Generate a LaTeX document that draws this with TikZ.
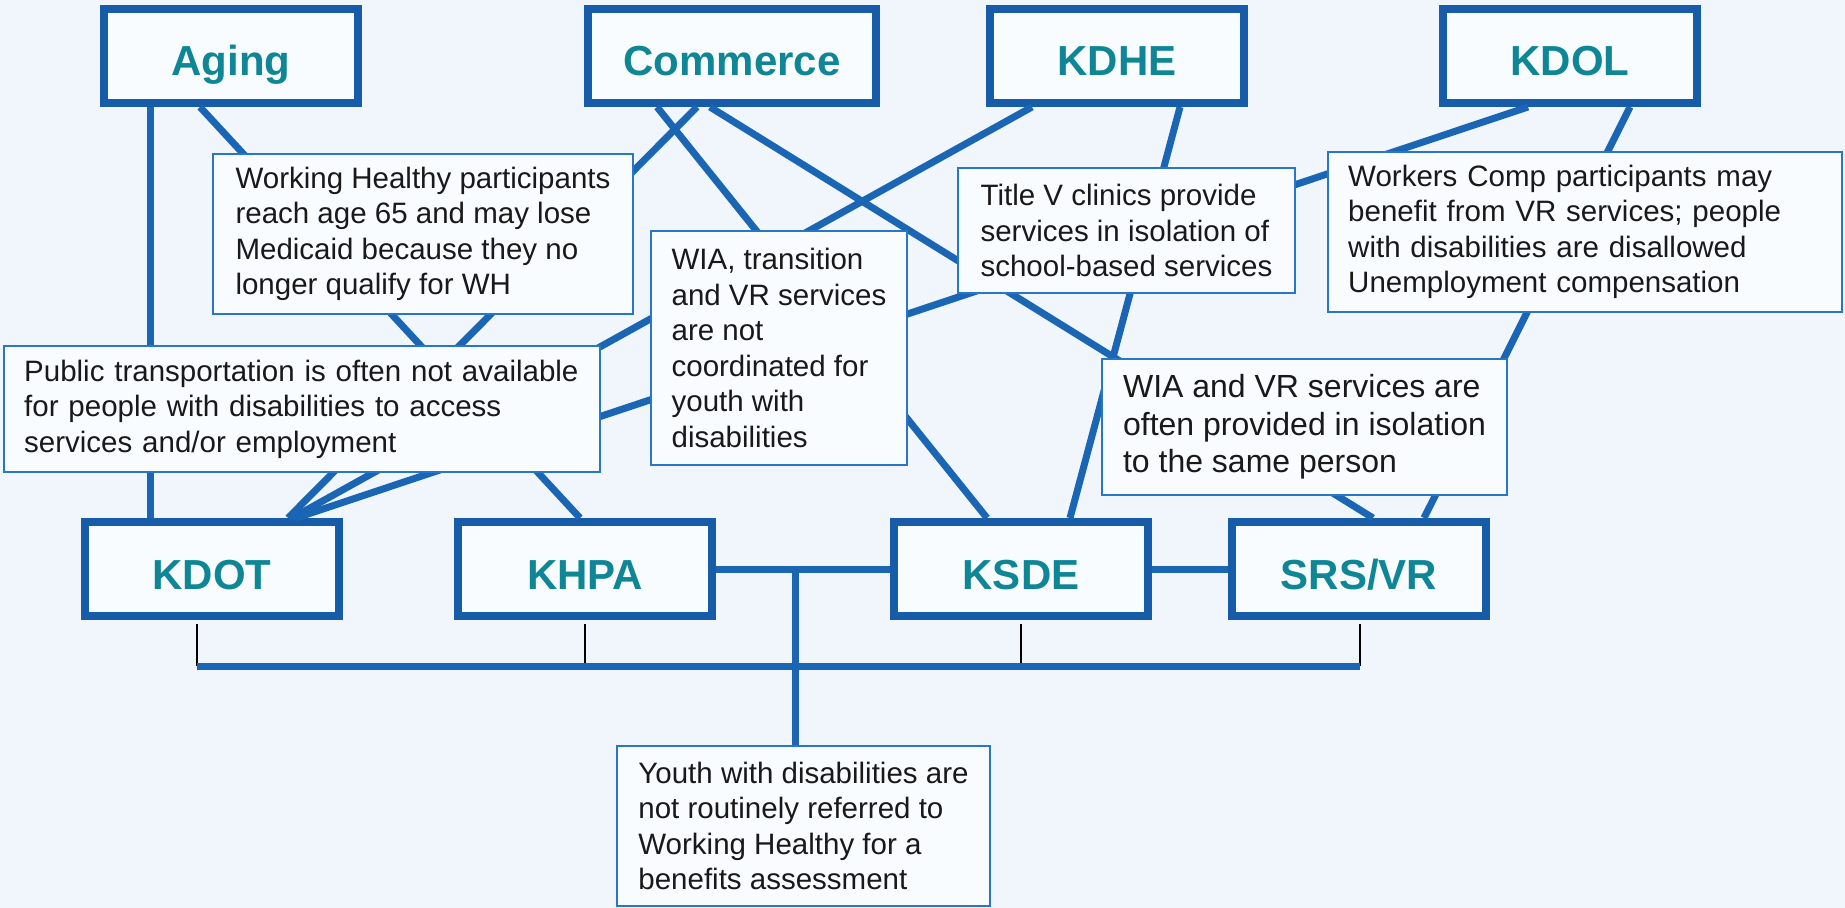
\documentclass[tikz,border=0pt]{standalone}
\usepackage{fontspec}
\setmainfont{Liberation Sans}

\definecolor{agencyblue}{RGB}{22,92,168}
\definecolor{linkblue}{RGB}{26,102,180}
\definecolor{noteblue}{RGB}{40,118,200}
\definecolor{agencyteal}{RGB}{14,134,150}
\definecolor{paper}{RGB}{240,246,251}
\definecolor{notefill}{RGB}{249,252,254}

\begin{document}
\begin{tikzpicture}[x=0.5pt, y=-0.5pt,
	agency/.style={rectangle, draw=agencyblue, line width=4pt, fill=notefill, minimum width=127pt, minimum height=47pt, inner sep=0pt, text height=20pt, text depth=0pt, text=agencyteal, font=\fontsize{21}{25}\selectfont\bfseries},
	note/.style={rectangle, draw=noteblue, line width=1.2pt, fill=notefill, inner sep=0pt, align=left, text=black!90, font=\fontsize{14.75}{17.75}\selectfont},
	link/.style={draw=linkblue, line width=3.5pt},
	drop/.style={draw=black, line width=0.7pt}]
	\useasboundingbox (0,0) rectangle (1845,908);
	\fill[paper] (0,0) rectangle (1845,908);
	% agencies
	\node (aging) at (231,56)[agency]{Aging};
	\node (commerce) at (732,56)[agency, minimum width=144pt]{Commerce};
	\node (kdhe) at (1117,56)[agency]{KDHE};
	\node (kdol) at (1570,56)[agency]{KDOL};
	\node (kdot) at (212,569)[agency]{KDOT};
	\node (khpa) at (585,569)[agency]{KHPA};
	\node (ksde) at (1021,569)[agency]{KSDE};
	\node (srsvr) at (1359,569)[agency]{SRS/VR};
	% links between agencies
	\draw[link] ([xshift=-40.5pt]aging.south) -- ([xshift=-31pt]kdot.north);
	\draw[link] ([xshift=-15.5pt]aging.south) -- ([xshift=-2.5pt]khpa.north);
	\draw[link] ([xshift=-17.5pt]commerce.south) -- ([xshift=38pt]kdot.north);
	\draw[link] ([xshift=-37.5pt]commerce.south) -- ([xshift=-17pt]ksde.north);
	\draw[link] ([xshift=-11pt]commerce.south) -- ([xshift=7pt]srsvr.north);
	\draw[link] ([xshift=-42.5pt]kdhe.south) -- ([xshift=40pt]kdot.north);
	\draw[link] ([xshift=31.5pt]kdhe.south) -- ([xshift=24.5pt]ksde.north);
	\draw[link] ([xshift=-21pt]kdol.south) -- ([xshift=42pt]kdot.north);
	\draw[link] ([xshift=30pt]kdol.south) -- ([xshift=32.5pt]srsvr.north);
	\draw[link] (khpa.east) -- (ksde.west);
	\draw[link] (ksde.east) -- (srsvr.west);
	% issues, on top of the links
	\node (ageout) at (423,234)[note, minimum width=209.8pt, minimum height=79.8pt]{Working Healthy participants\\reach age 65 and may lose\\Medicaid because they no\\longer qualify for WH};
	\node (transport) at (302,409)[note, inner xsep=10pt, text width=277.8pt, minimum height=62.8pt]{Public transportation is often not available\\for people with disabilities to access\\services and/or employment};
	\node (wiatrans) at (779,348)[note, minimum width=127.8pt, minimum height=116.8pt]{WIA, transition\\and VR services\\are not\\coordinated for\\youth with\\disabilities};
	\node (titlev) at (1126.5,230.5)[note, minimum width=168.3pt, minimum height=62.3pt]{Title V clinics provide\\services in isolation of\\school-based services};
	\node (workcomp) at (1585,232)[note, inner xsep=10pt, text width=236.8pt, minimum height=79.8pt]{Workers Comp participants may\\benefit from VR services; people\\with disabilities are disallowed\\Unemployment compensation};
	\node (wiavr) at (1304.5,427)[note, minimum width=202.3pt, minimum height=67.8pt, font=\fontsize{16}{18.75}\selectfont]{WIA and VR services are\\often provided in isolation\\to the same person};
	\node (youth) at (803.5,826)[note, minimum width=186.3pt, minimum height=79.8pt]{Youth with disabilities are\\not routinely referred to\\Working Healthy for a\\benefits assessment};
	% bottom tree
	\coordinate (hub) at (795,569);
	\draw[link] (hub) -- (hub |- youth.north);
	\coordinate (barl) at (197,666);
	\coordinate (barr) at (1360,666);
	\draw[drop] ([yshift=-2pt]kdot.south -| barl) -- (barl);
	\draw[drop] ([yshift=-2pt]khpa.south) -- (khpa.south |- barl);
	\draw[drop] ([yshift=-2pt]ksde.south) -- (ksde.south |- barl);
	\draw[drop] ([yshift=-2pt]srsvr.south -| barr) -- (barr);
	\draw[link] (barl) -- (barr);
\end{tikzpicture}
\end{document}
